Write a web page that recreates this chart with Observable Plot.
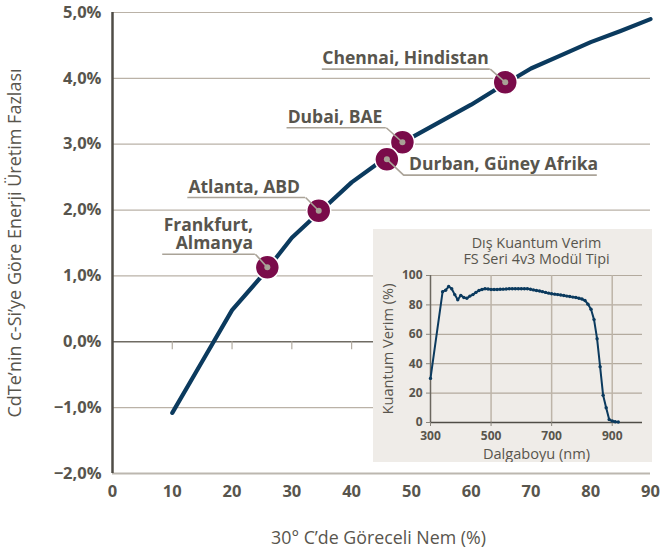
<!DOCTYPE html>
<html><head><meta charset="utf-8">
<script src="https://cdn.jsdelivr.net/npm/d3@7"></script>
<script src="https://cdn.jsdelivr.net/npm/@observablehq/plot@0.6"></script>
<style>
body{margin:0;background:#fff}
#wrap{position:relative;width:660px;height:551px}
#inset{position:absolute;left:373px;top:229px}
</style>
</head><body><div id="wrap"><div id="main"></div><div id="inset"></div></div>
<script>
// Main chart: energy excess of CdTe vs c-Si at relative humidity
const humidity = [10,15,20,25,30,35,40,45,50,55,60,65,70,75,80,85,90];
const excess   = [-1.08,-0.30,0.48,1.00,1.58,2.00,2.42,2.75,3.10,3.35,3.60,3.88,4.15,4.35,4.55,4.72,4.90];

// Cities (draw order: Dubai under Durban)
const cityNames    = ["Frankfurt,\nAlmanya","Atlanta, ABD","Dubai, BAE","Durban, Güney Afrika","Chennai, Hindistan"];
const cityHumidity = [25.9, 34.5, 48.5, 45.9, 65.7];
const cityExcess   = [1.13, 1.99, 3.03, 2.77, 3.94];
// Annotation anchors (data units): underline start / end / level, text start
const labelStart = [8.4, 12.6, 29.2, 48.7, 35.1];
const labelEnd   = [23.9, 32.3, 45.8, 81.1, 63.2];
const labelLevel = [1.33, 2.19, 3.25, 2.53, 4.14];
const labelTextX = [23.5, 12.7, 29.3, 49.6, 35.1];

const xTicks = [0,10,20,30,40,50,60,70,80,90];
const yTicks = [-2,-1,0,1,2,3,4,5];
const xTitle = "30° C’de Göreceli Nem (%)";
const yTitle = "CdTe’nin c-Si’ye Göre Enerji Üretim Fazlası";

// Inset: external quantum efficiency
const wavelength = [300,340,350,360,370,380,390,400,410,420,430,440,450,460,470,480,490,500,510,520,530,540,550,560,570,580,590,600,610,620,630,640,650,660,670,680,690,700,710,720,730,740,750,760,770,780,790,800,810,820,830,840,850,860,870,880,890,900,910,920];
const eqe = [30,89,90,92.5,91,87,83.5,86.5,85,84.5,86,87,88.5,89.8,90.5,91,90.8,90.5,90.5,90.5,90.6,90.7,90.8,91,91,91,91,91,91,91,90.6,90.2,89.8,89.5,89,88.5,88,87.6,87.3,87,86.7,86.4,86,85.7,85.3,85,84.5,84,83,80.5,77,70,57,38,18.5,10,2,1,0.5,0.3];
const eqeXTicks = [300,500,700,900];
const eqeYTicks = [0,20,40,60,80,100];
const insetTitle = "Dış Kuantum Verim\nFS Seri 4v3 Modül Tipi";
const insetXTitle = "Dalgaboyu (nm)";
const insetYTitle = "Kuantum Verim (%)";

const curve = humidity.map((h,i)=>({h, v: excess[i]}));
const cities = cityNames.map((name,i)=>({
  name, x: cityHumidity[i], y: cityExcess[i],
  s: labelStart[i], e: labelEnd[i], l: labelLevel[i], tx: labelTextX[i]
}));
cities.forEach(c => { c.lx = Math.abs(c.s - c.x) < Math.abs(c.e - c.x) ? c.s : c.e; });

const FONT = "'Open Sans', 'DejaVu Sans', sans-serif";
const TXT = "#58554d";
const fmt = d => (d < 0 ? "\u2212" : "") + Math.abs(d).toFixed(1).replace(".", ",") + "%";

const main = Plot.plot({
  width: 660, height: 551,
  marginLeft: 112, marginRight: 10, marginTop: 12, marginBottom: 78,
  x: {domain: [0, 90]},
  y: {domain: [-2, 5]},
  style: {fontFamily: FONT, color: TXT, background: "transparent", overflow: "visible"},
  marks: [
    Plot.ruleY(yTicks.filter(d => d !== 0 && d !== -2), {stroke: "#bab2a7", strokeWidth: 1.2}),
    Plot.ruleY([0], {stroke: "#6f6b63", strokeWidth: 1.5}),
    Plot.ruleY([-2], {stroke: "#bcb7af", strokeWidth: 2}),
    Plot.ruleX(xTicks.filter(d => d > 0), {y1: 0, y2: -0.12, stroke: "#b3aca2", strokeWidth: 1.2}),
    Plot.ruleX([0], {stroke: "#4f4c46", strokeWidth: 2.5}),
    Plot.axisY({ticks: yTicks, tickSize: 0, tickPadding: 11, tickFormat: fmt, fontSize: 16.5, fontWeight: "bold", label: null}),
    Plot.axisX({ticks: xTicks, tickSize: 0, tickPadding: 12, tickFormat: d => String(d), fontSize: 16.5, fontWeight: "bold", label: null}),
    Plot.text([yTitle], {frameAnchor: "left", textAnchor: "middle", lineAnchor: "middle", rotate: -90, dx: -97, fontSize: 18, fill: TXT}),
    Plot.text([xTitle], {frameAnchor: "bottom", lineAnchor: "middle", dy: 65, dx: -3, fontSize: 17.8, fill: TXT}),
    Plot.line(curve, {x: "h", y: "v", stroke: "#0b3a5e", strokeWidth: 4.2, curve: "linear"}),
    Plot.dot(cities, {x: "x", y: "y", r: 12, fill: "#7a0b4a", stroke: "#fff", strokeWidth: 1.5}),
    Plot.link(cities, {x1: "x", y1: "y", x2: "lx", y2: "l", stroke: "#aaa398", strokeWidth: 1.6}),
    Plot.ruleY(cities, {x1: "s", x2: "e", y: "l", stroke: "#aaa398", strokeWidth: 1.6}),
    Plot.dot(cities, {x: "x", y: "y", r: 3, fill: "#a8a196"}),
    Plot.text(cities.filter(c => c.name.startsWith("Frankfurt")), {x: "tx", y: "l", text: "name", textAnchor: "end", dy: -5, lineAnchor: "bottom", lineHeight: 1.06, fontSize: 17.5, fontWeight: "bold", fill: TXT}),
    Plot.text(cities.filter(c => !c.name.startsWith("Frankfurt")), {x: "tx", y: "l", text: "name", textAnchor: "start", dy: -5, lineAnchor: "bottom", fontSize: 17.5, fontWeight: "bold", fill: TXT})
  ]
});
document.getElementById("main").append(main);

const eqeData = wavelength.map((w,i)=>({w, q: eqe[i]}));
const inset = Plot.plot({
  width: 279, height: 233,
  marginLeft: 57, marginRight: 10, marginTop: 46, marginBottom: 40,
  x: {domain: [300, 1000]},
  y: {domain: [0, 100]},
  style: {fontFamily: FONT, color: TXT, background: "#efece8"},
  marks: [
    Plot.ruleY(eqeYTicks.filter(d => d > 0), {stroke: "#b3aa9e", strokeWidth: 1.2}),
    Plot.ruleX(eqeXTicks.filter(d => d > 300), {y1: 0, y2: 100, stroke: "#bdb4a8", strokeWidth: 1.5}),
    Plot.ruleX([300], {y1: 0, y2: 100, stroke: "#6b675f", strokeWidth: 1.5}),
    Plot.ruleY([0], {stroke: "#4f4c46", strokeWidth: 1.5}),
    Plot.axisY({ticks: eqeYTicks, tickSize: 4, tickPadding: 4, fontSize: 12, fontWeight: "bold", stroke: "#8a857c", label: null}),
    Plot.axisX({ticks: eqeXTicks, tickSize: 4, tickPadding: 5, fontSize: 12, fontWeight: "bold", stroke: "#8a857c", label: null}),
    Plot.text([insetYTitle], {frameAnchor: "left", textAnchor: "middle", lineAnchor: "middle", rotate: -90, dx: -42, fontSize: 14.6, fill: TXT}),
    Plot.text([insetXTitle], {frameAnchor: "bottom", lineAnchor: "middle", dy: 32, fontSize: 14.6, fill: TXT}),
    Plot.text([insetTitle], {frameAnchor: "top", lineAnchor: "middle", dy: -25, fontSize: 14.4, lineHeight: 1.13, fill: TXT}),
    Plot.line(eqeData, {x: "w", y: "q", stroke: "#0b3a5e", strokeWidth: 2}),
    Plot.dot(eqeData, {x: "w", y: "q", r: 1.7, fill: "#0b3a5e"})
  ]
});
document.getElementById("inset").append(inset);
</script>
</body></html>
